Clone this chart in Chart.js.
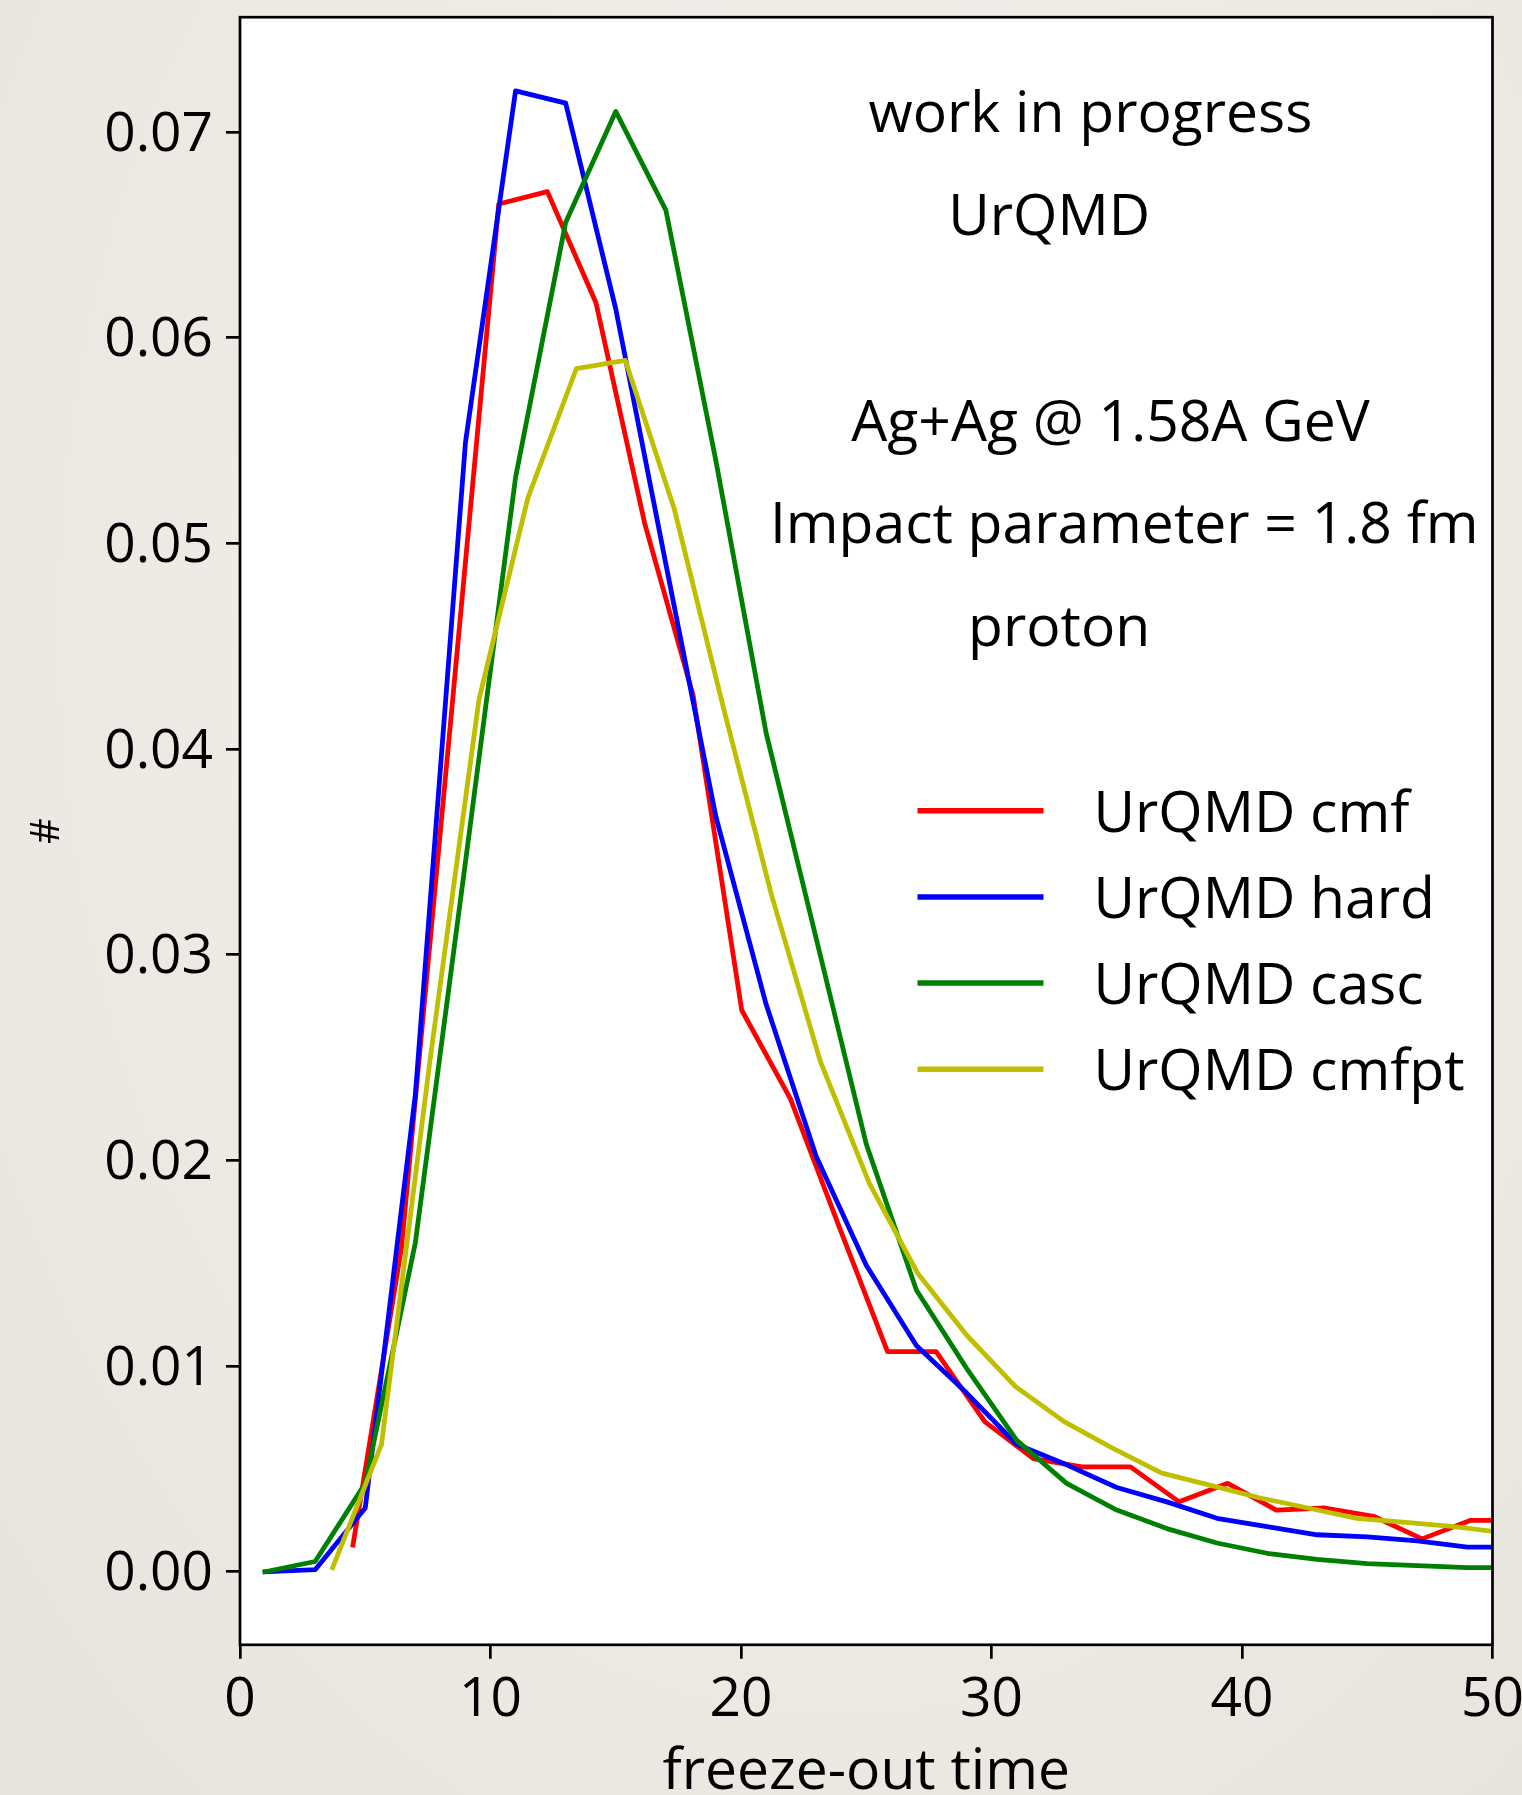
<!DOCTYPE html>
<html>
<head>
<meta charset="utf-8">
<script src="https://cdn.jsdelivr.net/npm/chart.js@4.4.1/dist/chart.umd.min.js"></script>
<style>
  html, body { margin: 0; padding: 0; width: 1522px; height: 1795px; overflow: hidden; }
  body { background: radial-gradient(ellipse at 55% 35%, #f3f1ec 0%, #ede9e3 60%, #e6e3dd 100%); }
  canvas { display: block; }
</style>
</head>
<body>
<canvas id="c" width="1522" height="1795"></canvas>
<script>
// ---------------- data ----------------
const seriesLabels = ['UrQMD cmf', 'UrQMD hard', 'UrQMD casc', 'UrQMD cmfpt'];
const seriesColors = ['#ff0000', '#0000ff', '#008000', '#bfbf00'];

const cmfTime  = [4.51, 6.45, 8.39, 10.33, 12.27, 14.21, 16.15, 18.09, 20.03, 21.97, 23.91, 25.85, 27.79, 29.73, 31.67, 33.61, 35.55, 37.49, 39.43, 41.37, 43.31, 45.25, 47.19, 49.13, 51.07];
const cmfValue = [0.0013, 0.0158, 0.0411, 0.0665, 0.0671, 0.0617, 0.0510, 0.0426, 0.0273, 0.0230, 0.0168, 0.0107, 0.0107, 0.0073, 0.0055, 0.0051, 0.0051, 0.0034, 0.0043, 0.0030, 0.0031, 0.0027, 0.0016, 0.0025, 0.0025];

const hardTime  = [1, 3, 5, 7, 9, 11, 13, 15, 17, 19, 21, 23, 25, 27, 29, 31, 33, 35, 37, 39, 41, 43, 45, 47, 49, 51];
const hardValue = [0, 0.0001, 0.0031, 0.0232, 0.0549, 0.0720, 0.0714, 0.0614, 0.0490, 0.0367, 0.0276, 0.0202, 0.0149, 0.0110, 0.0087, 0.0062, 0.0052, 0.0041, 0.0034, 0.0026, 0.0022, 0.0018, 0.0017, 0.0015, 0.0012, 0.0012];

const cascTime  = [1, 3, 5, 7, 9, 11, 13, 15, 17, 19, 21, 23, 25, 27, 29, 31, 33, 35, 37, 39, 41, 43, 45, 47, 49, 51];
const cascValue = [0, 0.0005, 0.0043, 0.0160, 0.0345, 0.0532, 0.0656, 0.0710, 0.0662, 0.0540, 0.0408, 0.0308, 0.0208, 0.0137, 0.0099, 0.0064, 0.0043, 0.0030, 0.0021, 0.0014, 0.0009, 0.0006, 0.0004, 0.0003, 0.0002, 0.0002];

const cmfptTime  = [3.70, 5.65, 7.60, 9.54, 11.49, 13.43, 15.38, 17.33, 19.28, 21.22, 23.17, 25.12, 27.06, 29.01, 30.96, 32.90, 34.85, 36.80, 38.75, 40.69, 42.64, 44.59, 46.53, 48.48, 50.43];
const cmfptValue = [0.0002, 0.0062, 0.0250, 0.0424, 0.0522, 0.0585, 0.0589, 0.0517, 0.0421, 0.0329, 0.0248, 0.0189, 0.0145, 0.0115, 0.0090, 0.0073, 0.0060, 0.0048, 0.0042, 0.0036, 0.0031, 0.0026, 0.0024, 0.0022, 0.0019];

const xTicks = [0, 10, 20, 30, 40, 50];
const yTicks = [0.00, 0.01, 0.02, 0.03, 0.04, 0.05, 0.06, 0.07];
const xLimits = [0, 50];
const yLimits = [-0.00355, 0.07558];

const xTitle = 'freeze-out time';
const yTitle = '#';

const noteTexts = ['work in progress', 'UrQMD', 'Ag+Ag @ 1.58A GeV', 'Impact parameter = 1.8 fm', 'proton'];
const noteX     = [33.95, 32.3, 34.75, 35.3, 32.7];
const noteY     = [0.070, 0.065, 0.055, 0.050, 0.045];

// ---------------- chart ----------------
const FONT = "'Open Sans', 'Noto Sans', sans-serif";
const times  = [cmfTime, hardTime, cascTime, cmfptTime];
const values = [cmfValue, hardValue, cascValue, cmfptValue];

const datasets = seriesLabels.map((label, i) => ({
  label,
  data: times[i].map((t, k) => ({ x: t, y: values[i][k] })),
  borderColor: seriesColors[i],
  backgroundColor: seriesColors[i],
  borderWidth: 4.8,
  pointRadius: 0,
  pointHoverRadius: 0,
  tension: 0,
  fill: false,
  clip: 0,
  borderCapStyle: 'square',
  borderJoinStyle: 'round',
  order: seriesLabels.length - i
}));

const plotBackground = {
  id: 'plotBackground',
  beforeDraw(chart) {
    const { ctx, chartArea: a } = chart;
    ctx.save();
    ctx.fillStyle = '#ffffff';
    ctx.fillRect(a.left, a.top, a.right - a.left, a.bottom - a.top);
    ctx.restore();
  }
};

const frameAndText = {
  id: 'frameAndText',
  afterDatasetsDraw(chart) {
    const { ctx, chartArea: a, scales } = chart;
    ctx.save();
    // annotations (data coordinates, baseline anchored)
    ctx.fillStyle = '#000';
    ctx.font = `57px ${FONT}`;
    ctx.textAlign = 'center';
    ctx.textBaseline = 'alphabetic';
    noteTexts.forEach((t, i) => {
      ctx.fillText(t, scales.x.getPixelForValue(noteX[i]), scales.y.getPixelForValue(noteY[i]));
    });
    // legend (from datasets)
    const top0 = a.top + 793.5, step = 86.2;
    const lx0 = a.left + 677.5, lx1 = a.left + 803.5, tx = a.left + 853.5;
    chart.data.datasets.forEach((ds, i) => {
      const y = top0 + i * step;
      ctx.strokeStyle = ds.borderColor;
      ctx.lineWidth = 5.5;
      ctx.lineCap = 'butt';
      ctx.beginPath();
      ctx.moveTo(lx0, y);
      ctx.lineTo(lx1, y);
      ctx.stroke();
      ctx.fillStyle = '#000';
      ctx.textAlign = 'left';
      ctx.textBaseline = 'alphabetic';
      ctx.fillText(ds.label, tx, y + 21);
    });
    // frame
    ctx.strokeStyle = '#000';
    ctx.lineWidth = 2.7;
    ctx.strokeRect(a.left, a.top, a.right - a.left, a.bottom - a.top);
    ctx.restore();
  }
};

new Chart(document.getElementById('c'), {
  type: 'line',
  data: { datasets },
  options: {
    responsive: false,
    animation: false,
    devicePixelRatio: 1,
    events: [],
    layout: { padding: { left: 0, top: 17.2, right: 29.5, bottom: 0 } },
    plugins: { legend: { display: false }, title: { display: false }, tooltip: { enabled: false } },
    scales: {
      x: {
        type: 'linear',
        min: xLimits[0],
        max: xLimits[1],
        afterBuildTicks: s => { s.ticks = xTicks.map(v => ({ value: v })); },
        afterFit: s => { s.height = 150.2; s.paddingLeft = 0; s.paddingRight = 0; },
        ticks: {
          callback: v => String(v),
          font: { family: FONT, size: 55 },
          color: '#000',
          padding: 9,
          maxRotation: 0,
          autoSkip: false
        },
        grid: { drawOnChartArea: false, drawTicks: true, tickLength: 14, tickColor: '#000', tickWidth: 2.7, color: '#000', lineWidth: 2.7 },
        border: { display: false },
        title: {
          display: true,
          text: xTitle,
          color: '#000',
          font: { family: FONT, size: 57, lineHeight: 0.7 },
          padding: { top: 0, bottom: 2.5 }
        }
      },
      y: {
        type: 'linear',
        min: yLimits[0],
        max: yLimits[1],
        afterBuildTicks: s => { s.ticks = yTicks.map(v => ({ value: v })); },
        afterFit: s => { s.width = 240; s.paddingTop = 0; s.paddingBottom = 0; },
        ticks: {
          callback: v => Number(v).toFixed(2),
          font: { family: FONT, size: 55 },
          color: '#000',
          padding: 13,
          labelOffset: 3,
          autoSkip: false
        },
        grid: { drawOnChartArea: false, drawTicks: true, tickLength: 14, tickColor: '#000', tickWidth: 2.7, color: '#000', lineWidth: 2.7 },
        border: { display: false },
        title: {
          display: true,
          text: yTitle,
          color: '#000',
          font: { family: FONT, size: 40, lineHeight: 1.2 },
          padding: { top: 24, bottom: 0 }
        }
      }
    }
  },
  plugins: [plotBackground, frameAndText]
});
</script>
</body>
</html>
